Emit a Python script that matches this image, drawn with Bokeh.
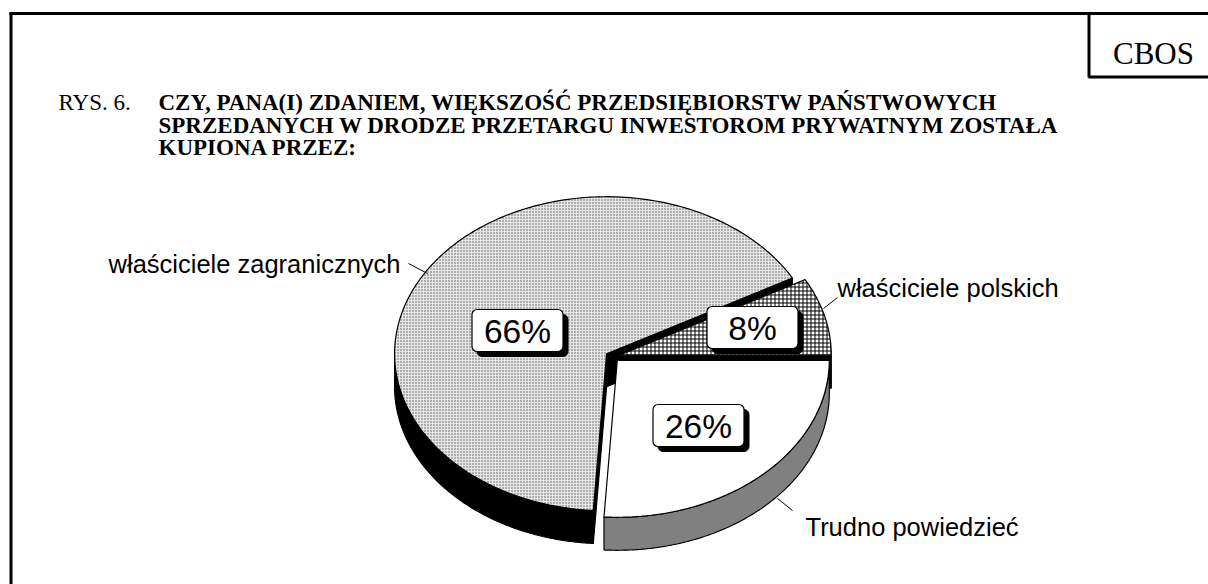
import numpy as np
from bokeh.plotting import figure
from bokeh.models import Range1d
from bokeh.core.properties import value
from bokeh.embed import file_html
from bokeh.resources import INLINE

# ---------------- data ----------------
categories = ["właściciele polskich", "właściciele zagranicznych", "Trudno powiedzieć"]
shares = [8, 66, 26]
pct_labels = ["8%", "66%", "26%"]

title_prefix = "RYS. 6."
title_lines = [
    "CZY, PANA(I) ZDANIEM, WIĘKSZOŚĆ PRZEDSIĘBIORSTW PAŃSTWOWYCH",
    "SPRZEDANYCH W DRODZE PRZETARGU INWESTOROM PRYWATNYM ZOSTAŁA",
    "KUPIONA PRZEZ:",
]
source_tag = "CBOS"

# ---------------- styles / layout ----------------
top_fill = ["white", "#e6e6e6", "white"]
top_hatch = ["cross", "dot", None]
hatch_col = ["black", "#5a5a5a", "black"]
hatch_scl = [4, 3, 4]
hatch_w = [1, 1.3, 1]
wall_col = ["black", "black", "#808080"]

CX, CY = 612, 356      # pie centre (page px)
RA, RB = 212, 157      # ellipse radii
DEPTH = 33
EXPLODE = 7 / 212

box_centers = [(752, 327), (517, 330), (698, 425)]
BOX_W, BOX_H = 91, 42

cat_pos = [(837, 287, "left"), (400, 263, "right"), (805, 526, "left")]
leaders = [((837, 297), (823, 308)), ((408, 263), (427, 273)), ((792, 510), (777, 498))]

W, H = 1208, 584
p = figure(width=W, height=H, output_backend="svg", toolbar_location=None,
           x_range=Range1d(0, W), y_range=Range1d(H, 0),
           min_border=0, outline_line_color=None)
p.xaxis.visible = False
p.yaxis.visible = False
p.xgrid.visible = False
p.ygrid.visible = False
p.background_fill_color = "white"
p.border_fill_color = "white"

# ---------------- frame ----------------
p.segment(x0=[10.5, 9, 1088.5, 1088], y0=[12, 13, 13, 76.5],
          x1=[10.5, W, 1088.5, W], y1=[H, 13, 77, 76.5],
          line_color="black", line_width=3)
p.text(x=[1153], y=[53], text=[source_tag], text_font=value("Liberation Serif"),
       text_font_size="31px", text_align="center", text_baseline="alphabetic",
       text_color="black")

# ---------------- title ----------------
p.text(x=[58], y=[102], text=[title_prefix], text_font=value("Liberation Serif"),
       text_font_size="23px", text_align="left", text_baseline="alphabetic", text_color="black")
p.text(x=[158] * len(title_lines), y=[102 + 22.7 * i for i in range(len(title_lines))],
       text=title_lines, text_font=value("Liberation Serif"), text_font_style="bold",
       text_font_size="23px", text_align="left", text_baseline="alphabetic", text_color="black")

# ---------------- pie geometry ----------------
edges = np.concatenate([[0], np.cumsum(shares)]) / 100.0 * 2 * np.pi
tops, sides = [], []
for i in range(len(shares)):
    t1, t2 = edges[i], edges[i + 1]
    mid = 0.5 * (t1 + t2)
    cx = CX + EXPLODE * RA * np.cos(mid)
    cy = CY - EXPLODE * RB * np.sin(mid)
    t = np.linspace(t1, t2, 200)
    ax = cx + RA * np.cos(t)
    ay = cy - RB * np.sin(t)
    tops.append((list(np.r_[cx, ax, cx]), list(np.r_[cy, ay, cy])))
    # outer wall (front half)
    lo, hi = max(t1, np.pi), min(t2, 2 * np.pi)
    if hi > lo:
        tw = np.linspace(lo, hi, 200)
        wx = cx + RA * np.cos(tw)
        wy = cy - RB * np.sin(tw)
        sides.append((list(np.r_[wx, wx[::-1]]), list(np.r_[wy, wy[::-1] + DEPTH]), wall_col[i]))
    # radial faces
    for ang, normal in ((t1, t1 - np.pi / 2), (t2, t2 + np.pi / 2)):
        if np.sin(normal) < -1e-6:
            rx = cx + RA * np.cos(ang)
            ry = cy - RB * np.sin(ang)
            sides.append(([cx, rx, rx, cx], [cy, ry, ry + DEPTH, cy + DEPTH], wall_col[i]))

for xs, ys, col in sides:
    p.patch(xs, ys, fill_color=col, line_color="black", line_width=1.2)

for i, (xs, ys) in enumerate(tops):
    kw = {}
    if top_hatch[i]:
        kw = dict(hatch_pattern=top_hatch[i], hatch_color=hatch_col[i],
                  hatch_scale=hatch_scl[i], hatch_weight=hatch_w[i])
    p.patch(xs, ys, fill_color=top_fill[i], line_color="black", line_width=1.2, **kw)

# ---------------- percentage boxes ----------------
bx = [c[0] for c in box_centers]
by = [c[1] for c in box_centers]
p.quad(left=[x - BOX_W / 2 + 5 for x in bx], right=[x + BOX_W / 2 + 5 for x in bx],
       top=[y - BOX_H / 2 + 5 for y in by], bottom=[y + BOX_H / 2 + 5 for y in by],
       fill_color="black", line_color="black", border_radius=5)
p.quad(left=[x - BOX_W / 2 for x in bx], right=[x + BOX_W / 2 for x in bx],
       top=[y - BOX_H / 2 for y in by], bottom=[y + BOX_H / 2 for y in by],
       fill_color="white", line_color="black", line_width=1.2, border_radius=5)
p.text(x=bx, y=[y + 1 for y in by], text=pct_labels, text_font=value("Liberation Sans"),
       text_font_size="33.5px", text_align="center", text_baseline="middle", text_color="black")

# ---------------- category labels ----------------
for (x, y, al), name in zip(cat_pos, categories):
    p.text(x=[x], y=[y], text=[name], text_font=value("Liberation Sans"),
           text_font_size="25.5px", text_align=al, text_baseline="alphabetic", text_color="black")
p.segment(x0=[a[0] for a, b in leaders], y0=[a[1] for a, b in leaders],
          x1=[b[0] for a, b in leaders], y1=[b[1] for a, b in leaders],
          line_color="black", line_width=1)

open("out.html", "w").write(file_html(p, INLINE))
